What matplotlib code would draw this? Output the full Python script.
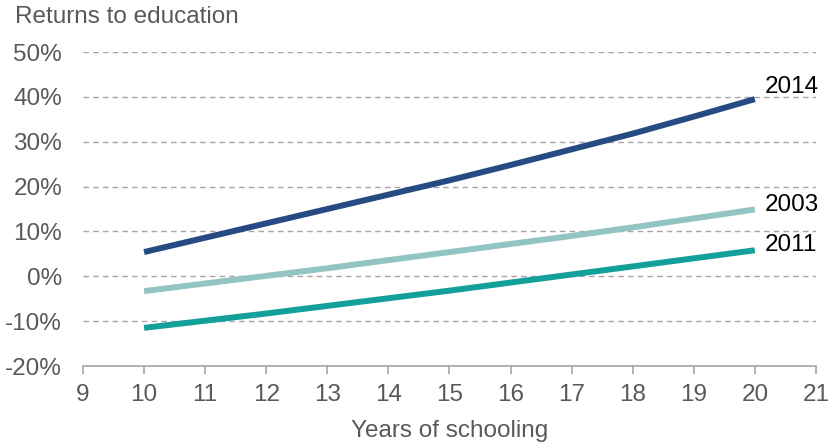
import matplotlib.pyplot as plt
from matplotlib.ticker import FuncFormatter

plt.rcParams['font.family'] = ['Liberation Sans', 'DejaVu Sans']

# Returns to education by years of schooling (%)
years = [10, 11, 12, 13, 14, 15, 16, 17, 18, 19, 20]
ret_2014 = [5.4, 8.6, 11.8, 15.0, 18.2, 21.4, 24.8, 28.3, 31.8, 35.6, 39.5]
ret_2003 = [-3.3, -1.6, 0.1, 1.8, 3.6, 5.4, 7.2, 9.0, 10.9, 12.9, 14.9]
ret_2011 = [-11.5, -9.9, -8.3, -6.6, -4.9, -3.2, -1.4, 0.4, 2.2, 4.0, 5.8]

series = [
    ("2014", ret_2014, "#264a82", 9),
    ("2003", ret_2003, "#93c4c4", 3),
    ("2011", ret_2011, "#13a09a", 4),
]

fig = plt.figure(figsize=(8.3, 4.43), dpi=100)
ax = fig.add_axes([0.1, 0.1738, 0.883, 0.7088])

for name, vals, color, dy in series:
    ax.plot(years, vals, color=color, lw=4.3, solid_capstyle='butt', zorder=3)
    ax.annotate(name, (years[-1], vals[-1]), xytext=(7, dy), textcoords='offset points',
                ha='left', va='center', fontsize=17.5, color='black')

ax.set_xlim(9, 21)
ax.set_ylim(-20, 50)
ax.set_xticks(range(9, 22))
ax.set_yticks(range(-20, 51, 10))
ax.yaxis.set_major_formatter(FuncFormatter(lambda v, _: f"{v:.0f}%"))

ax.grid(axis='y', color='#a6a6a6', lw=1, ls=(0, (4, 3)))
ax.set_axisbelow(True)
for side in ['top', 'right', 'left']:
    ax.spines[side].set_visible(False)
ax.spines['bottom'].set_color('#a6a6a6')
ax.spines['bottom'].set_linewidth(1.2)

ax.tick_params(axis='y', length=0, pad=15, labelsize=17.5, labelcolor='#595959')
ax.tick_params(axis='x', length=6, width=1.2, color='#a6a6a6', pad=7,
               labelsize=17.5, labelcolor='#595959')

ax.set_xlabel("Years of schooling", fontsize=17.5, color='#595959', labelpad=10)
fig.text(15 / 830, 1 - 17 / 443, "Returns to education", fontsize=17.5, color='#595959',
         ha='left', va='center')

fig.savefig("out.png", dpi=100)
